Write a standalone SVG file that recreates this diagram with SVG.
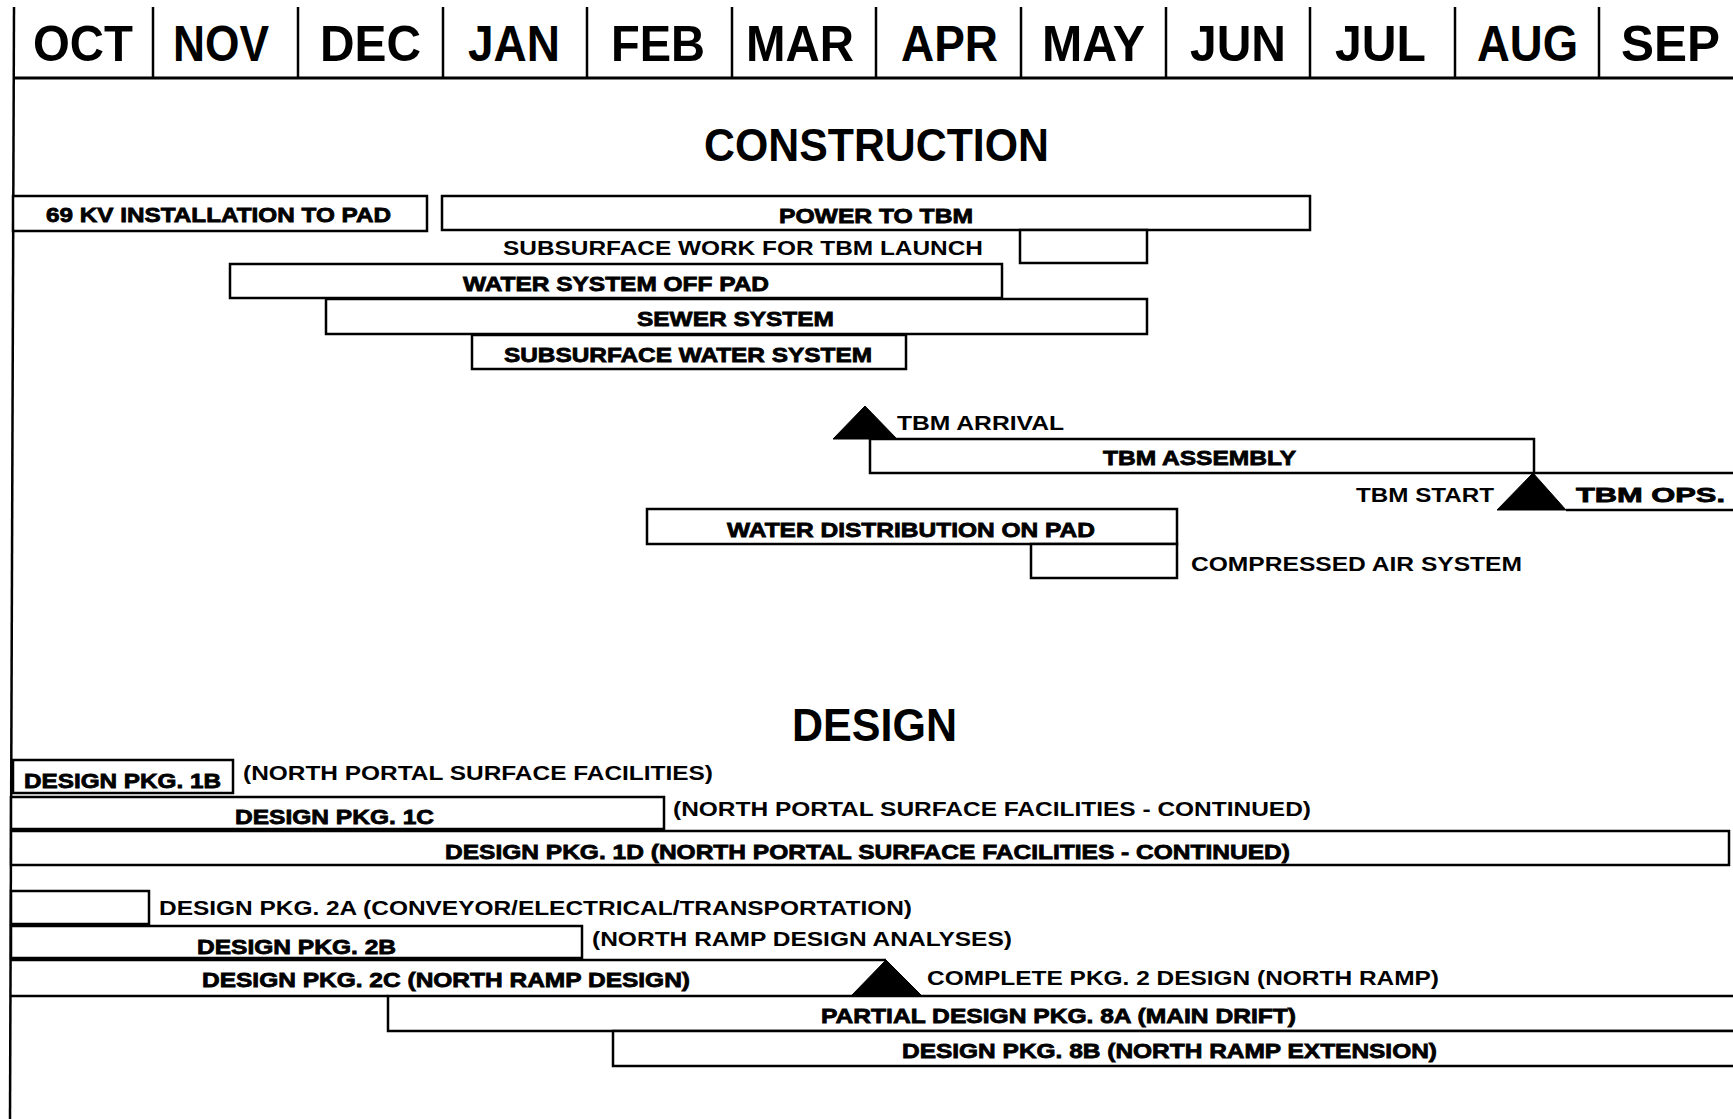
<svg xmlns="http://www.w3.org/2000/svg" width="1733" height="1119" viewBox="0 0 1733 1119">
<style>
.bg{fill:#fff}
.ln{stroke:#000;stroke-width:2.5;fill:none}
.hd{stroke:#000;stroke-width:3;fill:none}
.bar{fill:#fff;stroke:#000;stroke-width:2.5}
.tri{fill:#000;stroke:#000;stroke-width:1}
text{font-family:"Liberation Sans",Arial,sans-serif;font-weight:bold;fill:#000}
.m{font-size:50px}
.t{font-size:46px}
.l{font-size:21px}
.h{font-size:21px;stroke:#000;stroke-width:0.8}
</style>
<rect class="bg" x="0" y="0" width="1733" height="1119"/>
<g id="grid">
<line class="ln" x1="14" y1="7" x2="10" y2="1119"/>
<line class="hd" x1="13" y1="78" x2="1733" y2="78"/>
<g class="ln">
<line x1="153" y1="7" x2="153" y2="78"/>
<line x1="298" y1="7" x2="298" y2="78"/>
<line x1="443" y1="7" x2="443" y2="78"/>
<line x1="587" y1="7" x2="587" y2="78"/>
<line x1="732" y1="7" x2="732" y2="78"/>
<line x1="876" y1="7" x2="876" y2="78"/>
<line x1="1021" y1="7" x2="1021" y2="78"/>
<line x1="1166" y1="7" x2="1166" y2="78"/>
<line x1="1310" y1="7" x2="1310" y2="78"/>
<line x1="1455" y1="7" x2="1455" y2="78"/>
<line x1="1599" y1="7" x2="1599" y2="78"/>
</g>
</g>
<g id="months">
<text class="m" x="33" y="61" textLength="100" lengthAdjust="spacingAndGlyphs">OCT</text>
<text class="m" x="173" y="61" textLength="96" lengthAdjust="spacingAndGlyphs">NOV</text>
<text class="m" x="320" y="61" textLength="101" lengthAdjust="spacingAndGlyphs">DEC</text>
<text class="m" x="468" y="61" textLength="92" lengthAdjust="spacingAndGlyphs">JAN</text>
<text class="m" x="611" y="61" textLength="94" lengthAdjust="spacingAndGlyphs">FEB</text>
<text class="m" x="746" y="61" textLength="108" lengthAdjust="spacingAndGlyphs">MAR</text>
<text class="m" x="901" y="61" textLength="97" lengthAdjust="spacingAndGlyphs">APR</text>
<text class="m" x="1042" y="61" textLength="103" lengthAdjust="spacingAndGlyphs">MAY</text>
<text class="m" x="1190" y="61" textLength="96" lengthAdjust="spacingAndGlyphs">JUN</text>
<text class="m" x="1335" y="61" textLength="91" lengthAdjust="spacingAndGlyphs">JUL</text>
<text class="m" x="1477" y="61" textLength="101" lengthAdjust="spacingAndGlyphs">AUG</text>
<text class="m" x="1621" y="61" textLength="99" lengthAdjust="spacingAndGlyphs">SEP</text>
</g>
<g id="construction-title"><text class="t" x="704" y="161" textLength="345" lengthAdjust="spacingAndGlyphs">CONSTRUCTION</text></g>
<g id="kv69"><rect class="bar" x="13" y="196" width="414" height="35"/><text class="h" x="46" y="222" textLength="345" lengthAdjust="spacingAndGlyphs">69 KV INSTALLATION TO PAD</text></g>
<g id="power"><rect class="bar" x="442" y="196" width="868" height="34"/><text class="h" x="779" y="223" textLength="194" lengthAdjust="spacingAndGlyphs">POWER TO TBM</text></g>
<g id="subsurface-work"><rect class="bar" x="1020" y="230" width="127" height="33"/><text class="l" x="503" y="255" textLength="480" lengthAdjust="spacingAndGlyphs">SUBSURFACE WORK FOR TBM LAUNCH</text></g>
<g id="water-off-pad"><rect class="bar" x="230" y="264" width="772" height="34"/><text class="h" x="463" y="291" textLength="306" lengthAdjust="spacingAndGlyphs">WATER SYSTEM OFF PAD</text></g>
<g id="sewer"><rect class="bar" x="326" y="299" width="821" height="35"/><text class="h" x="637" y="326" textLength="197" lengthAdjust="spacingAndGlyphs">SEWER SYSTEM</text></g>
<g id="subsurface-water"><rect class="bar" x="472" y="335" width="434" height="34"/><text class="h" x="504" y="362" textLength="368" lengthAdjust="spacingAndGlyphs">SUBSURFACE WATER SYSTEM</text></g>
<g id="tbm-arrival"><polygon class="tri" points="833,439 897,439 865,406"/><text class="l" x="897" y="430" textLength="167" lengthAdjust="spacingAndGlyphs">TBM ARRIVAL</text></g>
<g id="tbm-assembly"><rect class="bar" x="870" y="439" width="664" height="34"/><text class="h" x="1103" y="465" textLength="193" lengthAdjust="spacingAndGlyphs">TBM ASSEMBLY</text></g>
<g id="tbm-start"><polygon class="tri" points="1497,510 1566,510 1533,473"/><text class="l" x="1356" y="502" textLength="138" lengthAdjust="spacingAndGlyphs">TBM START</text></g>
<g id="tbm-ops"><line class="ln" x1="1534" y1="473" x2="1733" y2="473"/><line class="ln" x1="1566" y1="510" x2="1733" y2="510"/><text class="h" x="1576" y="502" textLength="149" lengthAdjust="spacingAndGlyphs">TBM OPS.</text></g>
<g id="water-distribution"><rect class="bar" x="647" y="509" width="530" height="35"/><text class="h" x="727" y="537" textLength="368" lengthAdjust="spacingAndGlyphs">WATER DISTRIBUTION ON PAD</text></g>
<g id="compressed-air"><rect class="bar" x="1031" y="544" width="146" height="34"/><text class="l" x="1191" y="571" textLength="331" lengthAdjust="spacingAndGlyphs">COMPRESSED AIR SYSTEM</text></g>
<g id="design-title"><text class="t" x="792" y="741" textLength="165" lengthAdjust="spacingAndGlyphs">DESIGN</text></g>
<g id="pkg1b"><rect class="bar" x="13" y="760" width="220" height="33"/><text class="h" x="24" y="788" textLength="197" lengthAdjust="spacingAndGlyphs">DESIGN PKG. 1B</text><text class="l" x="243" y="780" textLength="470" lengthAdjust="spacingAndGlyphs">(NORTH PORTAL SURFACE FACILITIES)</text></g>
<g id="pkg1c"><rect class="bar" x="11" y="797" width="653" height="32"/><text class="h" x="235" y="824" textLength="199" lengthAdjust="spacingAndGlyphs">DESIGN PKG. 1C</text><text class="l" x="673" y="816" textLength="638" lengthAdjust="spacingAndGlyphs">(NORTH PORTAL SURFACE FACILITIES - CONTINUED)</text></g>
<g id="pkg1d"><rect class="bar" x="11" y="831" width="1718" height="34"/><text class="h" x="445" y="859" textLength="845" lengthAdjust="spacingAndGlyphs">DESIGN PKG. 1D (NORTH PORTAL SURFACE FACILITIES - CONTINUED)</text></g>
<g id="pkg2a"><rect class="bar" x="11" y="891" width="138" height="33"/><text class="l" x="159" y="915" textLength="753" lengthAdjust="spacingAndGlyphs">DESIGN PKG. 2A (CONVEYOR/ELECTRICAL/TRANSPORTATION)</text></g>
<g id="pkg2b"><rect class="bar" x="11" y="926" width="571" height="32"/><text class="h" x="197" y="954" textLength="199" lengthAdjust="spacingAndGlyphs">DESIGN PKG. 2B</text><text class="l" x="592" y="946" textLength="420" lengthAdjust="spacingAndGlyphs">(NORTH RAMP DESIGN ANALYSES)</text></g>
<g id="pkg2c"><line class="ln" x1="11" y1="960" x2="886" y2="960"/><line class="ln" x1="11" y1="996" x2="388" y2="996"/><text class="h" x="202" y="987" textLength="488" lengthAdjust="spacingAndGlyphs">DESIGN PKG. 2C (NORTH RAMP DESIGN)</text></g>
<g id="complete-pkg2"><polygon class="tri" points="852,995 921,995 886,960"/><text class="l" x="927" y="985" textLength="512" lengthAdjust="spacingAndGlyphs">COMPLETE PKG. 2 DESIGN (NORTH RAMP)</text></g>
<g id="pkg8a"><rect class="bar" x="388" y="996" width="1360" height="35"/><text class="h" x="821" y="1023" textLength="475" lengthAdjust="spacingAndGlyphs">PARTIAL DESIGN PKG. 8A (MAIN DRIFT)</text></g>
<g id="pkg8b"><rect class="bar" x="613" y="1031" width="1135" height="35"/><text class="h" x="902" y="1058" textLength="535" lengthAdjust="spacingAndGlyphs">DESIGN PKG. 8B (NORTH RAMP EXTENSION)</text></g>
<g id="connectors"/>
</svg>
